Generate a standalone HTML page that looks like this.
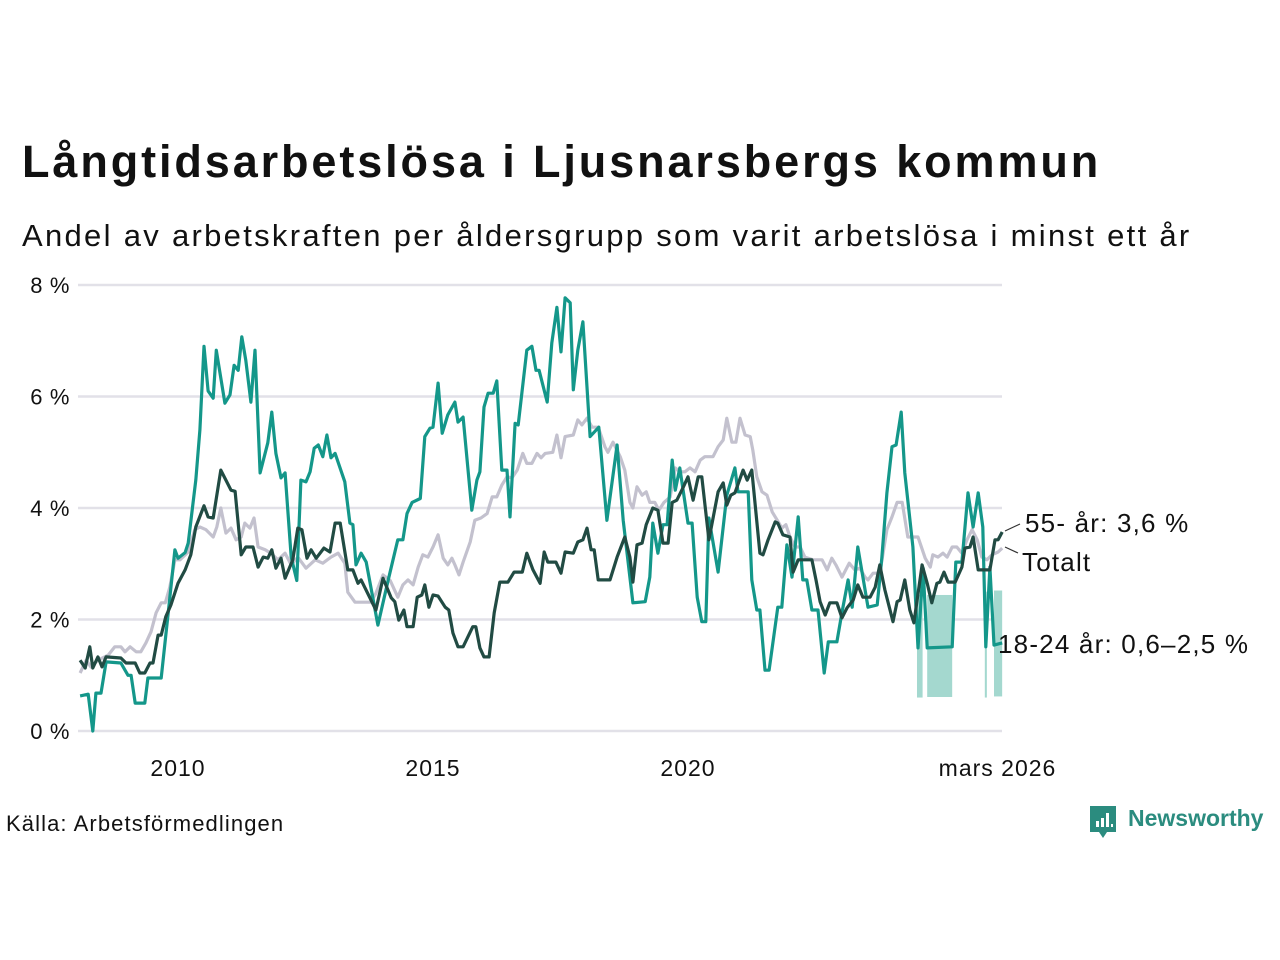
<!DOCTYPE html>
<html><head><meta charset="utf-8"><style>
body{margin:0;background:#fff;width:1280px;height:960px;overflow:hidden;font-family:"Liberation Sans",sans-serif;color:#111}
#t{position:absolute;left:22px;top:136px;font-size:45px;font-weight:bold;letter-spacing:2.9px;white-space:nowrap}
#s{position:absolute;left:22px;top:218px;font-size:31px;letter-spacing:2.3px;white-space:nowrap}
#src{position:absolute;left:6px;top:811px;font-size:22px;letter-spacing:1.1px}
#logo{position:absolute;left:1088px;top:804px;height:36px}
#logo span{position:absolute;left:40px;top:1px;font-size:23px;font-weight:bold;color:#2b8c7f;white-space:nowrap}
</style></head><body>
<div id="t">Långtidsarbetslösa i Ljusnarsbergs kommun</div>
<div id="s">Andel av arbetskraften per åldersgrupp som varit arbetslösa i minst ett år</div>
<svg id="chart" width="1280" height="960" style="position:absolute;left:0;top:0"></svg>
<div id="src">Källa: Arbetsförmedlingen</div>
<div id="logo">
<svg width="30" height="36" viewBox="0 0 30 36"><path d="M2 2h26v26h-9l-4 6-4-6H2z" fill="#2b8c7f"/><rect x="8" y="17" width="3" height="6" fill="#fff"/><rect x="13" y="14" width="3" height="9" fill="#fff"/><rect x="18" y="9" width="3" height="14" fill="#fff"/><rect x="23" y="20" width="2" height="3" fill="#fff"/></svg>
<span>Newsworthy</span></div>
<script>
const yTicks=[0,2,4,6,8];
const yTickLabels=["0 %","2 %","4 %","6 %","8 %"];
const xTicks=[2010,2015,2020,2026.17];
const xTickLabels=["2010","2015","2020","mars 2026"];
const youngDates=[8.08,8.24,8.33,8.39,8.49,8.59,8.88,9.02,9.08,9.16,9.35,9.41,9.67,9.80,9.94,10.00,10.14,10.20,10.35,10.43,10.51,10.59,10.69,10.75,10.92,11.02,11.10,11.18,11.25,11.33,11.43,11.51,11.61,11.76,11.84,11.92,12.02,12.10,12.22,12.33,12.41,12.51,12.59,12.67,12.75,12.84,12.92,13.00,13.08,13.27,13.37,13.43,13.49,13.59,13.69,13.92,14.12,14.31,14.41,14.49,14.59,14.75,14.84,14.94,15.00,15.10,15.18,15.29,15.43,15.49,15.59,15.76,15.86,15.92,16.00,16.08,16.18,16.25,16.35,16.45,16.51,16.61,16.67,16.84,16.94,17.02,17.08,17.24,17.33,17.43,17.51,17.59,17.69,17.75,17.84,17.94,18.08,18.25,18.41,18.61,18.73,18.92,19.16,19.25,19.31,19.41,19.51,19.59,19.69,19.75,19.84,20.00,20.08,20.18,20.27,20.35,20.41,20.59,20.76,20.92,20.98,21.18,21.25,21.35,21.41,21.51,21.59,21.76,21.84,21.94,22.04,22.16,22.25,22.33,22.43,22.55,22.67,22.75,22.92,23.02,23.14,23.22,23.33,23.43,23.53,23.71,23.80,23.90,24.00,24.08,24.18,24.25,24.41,24.51,24.61,24.69,25.18,25.25,25.37,25.49,25.59,25.69,25.78,25.84,25.92,26.00,26.16];
const youngValues=[.63,.66,0,.68,.68,1.24,1.22,1.0,1.0,.5,.5,.95,.95,2.05,3.25,3.1,3.2,3.37,4.5,5.4,6.9,6.1,5.97,6.83,5.88,6.03,6.56,6.47,7.07,6.65,5.9,6.83,4.63,5.17,5.72,4.98,4.54,4.63,3.12,2.7,4.5,4.47,4.65,5.07,5.13,4.92,5.31,4.9,4.98,4.47,3.73,3.7,2.98,3.19,3.03,1.9,2.7,3.43,3.43,3.9,4.1,4.17,5.28,5.43,5.45,6.24,5.34,5.67,5.9,5.54,5.63,3.96,4.5,4.65,5.81,6.06,6.06,6.28,4.68,4.68,3.84,5.52,5.49,6.83,6.9,6.47,6.47,5.9,6.96,7.6,6.8,7.77,7.68,6.12,6.83,7.34,5.28,5.45,3.78,5.13,3.78,2.3,2.32,2.76,3.73,3.19,3.7,3.7,4.86,4.32,4.72,3.73,3.73,2.4,1.96,1.96,3.82,2.85,4.23,4.72,4.29,4.29,2.71,2.17,2.17,1.09,1.09,2.22,2.22,3.34,2.76,3.84,2.71,2.71,2.17,2.17,1.04,1.6,1.6,2.13,2.71,2.22,3.3,2.76,2.22,2.26,3.1,4.27,5.1,5.13,5.72,4.63,3.3,1.49,2.92,1.49,1.51,3.03,3.03,4.27,3.66,4.27,3.66,1.51,2.94,1.54,1.58];
const bandStart=[24.49,24.69,25.82,26.0];
const bandEnd=[24.60,25.18,25.86,26.16];
const bandLow=[0.6,0.61,0.6,0.62];
const bandHigh=[2.44,2.44,2.5,2.52];
const oldDates=[8.08,8.18,8.27,8.33,8.43,8.51,8.59,8.88,8.98,9.16,9.25,9.35,9.45,9.51,9.61,9.67,9.76,9.86,10.00,10.14,10.25,10.35,10.51,10.59,10.69,10.84,10.94,11.04,11.12,11.24,11.33,11.47,11.57,11.67,11.76,11.84,11.92,12.02,12.10,12.25,12.35,12.43,12.53,12.61,12.71,12.86,12.98,13.08,13.18,13.33,13.43,13.53,13.59,13.88,14.02,14.18,14.25,14.33,14.43,14.49,14.61,14.69,14.78,14.84,14.92,15.00,15.10,15.24,15.31,15.39,15.49,15.59,15.78,15.84,15.92,16.00,16.10,16.20,16.31,16.47,16.59,16.75,16.84,16.96,17.10,17.18,17.25,17.41,17.51,17.59,17.75,17.84,17.94,18.02,18.10,18.16,18.24,18.47,18.61,18.76,18.86,18.92,19.00,19.10,19.18,19.31,19.41,19.51,19.61,19.69,19.78,19.90,20.00,20.10,20.20,20.27,20.41,20.59,20.69,20.76,20.84,20.92,21.08,21.16,21.25,21.41,21.47,21.57,21.71,21.76,21.86,22.00,22.06,22.16,22.43,22.51,22.59,22.69,22.78,22.92,23.02,23.12,23.24,23.33,23.43,23.57,23.67,23.76,23.86,24.02,24.10,24.16,24.25,24.35,24.43,24.59,24.69,24.78,24.88,24.94,25.02,25.10,25.24,25.37,25.43,25.53,25.59,25.69,25.92,26.02,26.08,26.16];
const oldValues=[1.27,1.13,1.51,1.13,1.33,1.15,1.33,1.31,1.22,1.22,1.04,1.04,1.22,1.22,1.72,1.72,2.05,2.26,2.65,2.89,3.16,3.66,4.04,3.84,3.82,4.68,4.5,4.32,4.3,3.16,3.3,3.3,2.94,3.12,3.1,3.25,2.92,3.1,2.74,3.07,3.64,3.61,3.1,3.25,3.1,3.28,3.21,3.73,3.73,2.89,2.89,2.65,2.71,2.17,2.74,2.39,2.32,1.99,2.17,1.87,1.87,2.4,2.44,2.62,2.22,2.44,2.42,2.22,2.17,1.76,1.51,1.51,1.87,1.87,1.49,1.33,1.33,2.12,2.67,2.67,2.85,2.85,3.19,2.89,2.65,3.21,3.03,3.03,2.83,3.21,3.19,3.39,3.43,3.64,3.25,3.25,2.71,2.71,3.12,3.48,3.12,2.67,3.34,3.37,3.7,4.0,3.96,3.37,3.37,4.1,4.14,4.36,4.56,4.14,4.56,4.56,3.43,4.29,4.45,4.05,4.23,4.27,4.68,4.5,4.68,3.19,3.16,3.43,3.75,3.73,3.52,3.48,2.85,3.07,3.07,2.71,2.32,2.08,2.3,2.3,2.03,2.21,2.35,2.62,2.4,2.4,2.58,2.98,2.53,1.96,2.32,2.35,2.71,2.17,1.94,2.98,2.65,2.3,2.65,2.67,2.85,2.67,2.67,2.94,3.28,3.3,3.48,2.89,2.89,3.43,3.43,3.57];
const totalDates=[8.08,8.20,8.29,8.43,8.63,8.76,8.88,8.96,9.06,9.18,9.27,9.37,9.47,9.57,9.67,9.75,9.84,9.94,10.04,10.20,10.33,10.43,10.55,10.69,10.76,10.84,10.94,11.04,11.14,11.24,11.31,11.41,11.49,11.57,11.71,11.82,11.96,12.10,12.22,12.35,12.51,12.69,12.84,13.00,13.14,13.27,13.33,13.47,13.78,13.88,14.02,14.16,14.31,14.41,14.51,14.61,14.71,14.80,14.90,15.00,15.10,15.20,15.29,15.37,15.43,15.51,15.59,15.73,15.82,15.94,16.06,16.16,16.25,16.35,16.45,16.55,16.65,16.76,16.84,16.94,17.04,17.12,17.20,17.35,17.43,17.51,17.59,17.75,17.84,17.92,18.02,18.12,18.24,18.37,18.43,18.53,18.67,18.76,18.86,18.92,19.00,19.10,19.18,19.25,19.35,19.43,19.53,19.65,19.75,19.84,19.94,20.04,20.14,20.24,20.33,20.49,20.59,20.69,20.76,20.86,20.94,21.02,21.12,21.22,21.27,21.35,21.45,21.55,21.65,21.75,21.84,21.92,22.00,22.10,22.20,22.29,22.45,22.63,22.73,22.82,22.90,23.02,23.16,23.27,23.37,23.47,23.53,23.63,23.76,23.90,24.00,24.10,24.20,24.31,24.51,24.65,24.75,24.80,24.90,25.00,25.08,25.18,25.27,25.37,25.47,25.57,25.67,25.76,25.86,25.96,26.08,26.16];
const totalValues=[1.04,1.27,1.15,1.27,1.36,1.51,1.51,1.42,1.51,1.42,1.42,1.58,1.78,2.12,2.3,2.3,2.58,3.07,3.07,3.21,3.61,3.66,3.61,3.48,3.66,4.0,3.55,3.64,3.43,3.48,3.73,3.64,3.82,3.3,3.25,3.19,3.07,3.19,2.98,3.12,2.92,3.07,3.01,3.12,3.19,3.01,2.49,2.31,2.31,2.47,2.8,2.7,2.4,2.62,2.71,2.62,2.94,3.16,3.12,3.3,3.52,3.1,2.98,3.1,2.98,2.8,3.03,3.39,3.78,3.82,3.9,4.2,4.2,4.41,4.56,4.54,4.68,4.98,4.8,4.8,4.98,4.9,4.98,5.0,5.31,4.9,5.28,5.31,5.58,5.49,5.61,5.45,5.45,5.1,5.0,5.18,4.92,4.68,4.1,4.0,4.38,4.23,4.29,4.1,4.1,3.96,4.1,4.2,4.72,4.65,4.65,4.72,4.65,4.86,4.92,4.92,5.1,5.22,5.61,5.18,5.18,5.61,5.31,5.28,5.04,4.56,4.29,4.23,3.93,3.78,3.64,3.7,3.48,3.3,3.3,3.12,3.07,3.07,2.89,3.1,2.98,2.76,3.01,2.89,2.92,2.76,2.71,2.83,2.83,3.61,3.84,4.1,4.1,3.48,3.48,3.1,2.94,3.16,3.12,3.19,3.12,3.3,3.3,3.19,3.43,3.61,3.43,3.12,3.07,3.16,3.21,3.28];

const NS="http://www.w3.org/2000/svg";
const svg=document.getElementById('chart');
const X0=78,X1=1002;
const xs=t=>178+(t-2010)*51;
const ys=v=>731-v*55.75;
function mk(tag,attrs,parent){const e=document.createElementNS(NS,tag);for(const k in attrs)e.setAttribute(k,attrs[k]);(parent||svg).appendChild(e);return e;}
yTicks.forEach((v,i)=>{
  const g=mk('line',{x1:X0,x2:X1,y1:ys(v),y2:ys(v),stroke:'#e2e1e8','stroke-width':2.5});
  
  
  const t=mk('text',{x:70,y:ys(v)+8,'text-anchor':'end','font-size':22,'letter-spacing':0.6,'font-family':'Liberation Sans, sans-serif',fill:'#111'});
  t.textContent=yTickLabels[i];
  
  
});
xTicks.forEach((v,i)=>{
  const t=mk('text',{x:xs(v),y:776,'text-anchor':i==3?'start':'middle','font-size':23,'letter-spacing':1,'font-family':'Liberation Sans, sans-serif',fill:'#111'});
  if(i==3)t.setAttribute('x',xs(v)-64);
  t.textContent=xTickLabels[i];
  
  
});
bandStart.forEach((s,i)=>{
  const r=mk('rect',{x:xs(2000+s),width:xs(2000+bandEnd[i])-xs(2000+s),y:ys(bandHigh[i]),height:ys(bandLow[i])-ys(bandHigh[i]),fill:'#a4d8cf'});
  
  
});
function line(d,v,color,name){
  const pts=d.map((t,i)=>xs(2000+t).toFixed(1)+','+ys(v[i]).toFixed(1)).join(' ');
  const p=mk('polyline',{points:pts,fill:'none',stroke:color,'stroke-width':3.2,'stroke-linejoin':'round'});
  
  
}
line(totalDates,totalValues,'#c3c1ce','line-totalt');
line(youngDates,youngValues,'#14978a','line-18-24');
line(oldDates,oldValues,'#214b43','line-55');
const ll=[[1005,531,1020,524],[1005,547,1018,553]];
ll.forEach(a=>{const l=mk('line',{x1:a[0],y1:a[1],x2:a[2],y2:a[3],stroke:'#333','stroke-width':1.2});

});
[[1025,532,'55- år: 3,6 %','label-55'],[1022,571,'Totalt','label-totalt'],[998,653,'18-24 år: 0,6–2,5 %','label-18-24']].forEach(a=>{
  const t=mk('text',{x:a[0],y:a[1],'font-size':26,'letter-spacing':1.2,'font-family':'Liberation Sans, sans-serif',fill:'#111'});
  t.textContent=a[2];
  
  
});
</script>
</body></html>
